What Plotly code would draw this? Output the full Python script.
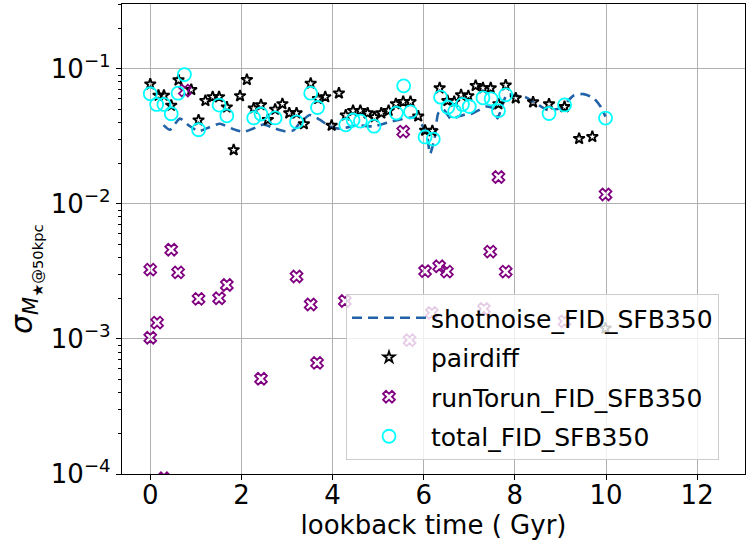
import plotly.graph_objects as go

# ---- data ----
shot_t = [0.29, 0.43, 0.65, 0.85, 1.06, 1.30, 1.53, 1.80, 2.04, 2.25, 2.48, 2.75, 2.95, 3.14, 3.28, 3.50,
          3.72, 3.94, 4.16, 4.53, 4.89, 5.30, 5.81, 5.96, 6.07, 6.14, 6.24, 6.32, 6.43, 6.60, 6.76, 6.94,
          7.05, 7.38, 7.52, 7.62, 7.72, 7.83, 8.04, 8.20, 8.49, 8.71, 9.00, 9.29, 9.51, 9.73, 9.88, 9.99]
shot_v = [0.0383, 0.0354, 0.0428, 0.0380, 0.0346, 0.0370, 0.0392, 0.0360, 0.0341, 0.0360, 0.0387, 0.0360,
          0.0345, 0.0350, 0.0396, 0.0455, 0.0420, 0.0375, 0.0360, 0.0381, 0.0375, 0.0408, 0.0436, 0.0386,
          0.0325, 0.0235, 0.0307, 0.0470, 0.0500, 0.0425, 0.0443, 0.0463, 0.0465, 0.0526, 0.0510, 0.0430,
          0.0530, 0.0650, 0.0630, 0.0624, 0.0548, 0.0497, 0.0512, 0.0635, 0.0650, 0.0607, 0.0526, 0.0443]

pair_t = [0.0, 0.18, 0.30, 0.46, 0.62, 0.90, 1.06, 1.21, 1.37, 1.51, 1.68, 1.83, 1.97, 2.12, 2.27, 2.43,
          2.58, 2.74, 2.90, 3.05, 3.21, 3.37, 3.52, 3.68, 3.84, 3.98, 4.14, 4.29, 4.45, 4.61, 4.77, 4.92,
          5.07, 5.23, 5.39, 5.55, 5.71, 5.88, 6.03, 6.19, 6.35, 6.52, 6.67, 6.82, 6.98, 7.14, 7.30, 7.47,
          7.64, 7.80, 8.02, 8.40, 8.75, 9.09, 9.41, 9.70, 9.99]
pair_v = [0.077, 0.0636, 0.0636, 0.0536, 0.0825, 0.070, 0.0417, 0.058, 0.062, 0.062, 0.052, 0.0251,
          0.063, 0.083, 0.051, 0.054, 0.042, 0.050, 0.055, 0.047, 0.047, 0.039, 0.0778, 0.060, 0.062,
          0.038, 0.066, 0.0453, 0.049, 0.049, 0.047, 0.044, 0.047, 0.049, 0.055, 0.057, 0.057, 0.0445,
          0.035, 0.0347, 0.072, 0.058, 0.057, 0.064, 0.063, 0.075, 0.072, 0.072, 0.055, 0.0756, 0.0607,
          0.0567, 0.0548, 0.0523, 0.0304, 0.0314, 0.0012]

run_t = [0.0, 0.0, 0.15, 0.30, 0.46, 0.61, 0.76, 1.06, 1.51, 1.68, 2.43, 3.21, 3.52, 3.66, 4.27, 5.55,
         5.69, 6.03, 6.18, 6.34, 6.51, 7.32, 7.46, 7.64, 7.80, 9.09, 9.99]
run_v = [0.00326, 0.00102, 0.00132, 0.000093, 0.00458, 0.00311, 0.069, 0.00198, 0.0020, 0.00251,
         0.000507, 0.0029, 0.0018, 0.000665, 0.00191, 0.0343, 0.00098, 0.00318, 0.00156, 0.00345,
         0.00315, 0.00167, 0.00443, 0.0158, 0.00315, 0.00135, 0.01175]

tot_t = [0.0, 0.14, 0.30, 0.46, 0.61, 0.75, 1.06, 1.51, 1.68, 2.27, 2.43, 2.74, 3.21, 3.52, 3.67, 4.29,
         4.45, 4.61, 4.91, 5.40, 5.56, 5.71, 6.03, 6.21, 6.37, 6.53, 6.68, 6.85, 7.00, 7.30, 7.48, 7.64,
         7.80, 8.75, 9.09, 9.99]
tot_v = [0.0654, 0.0545, 0.0545, 0.0465, 0.066, 0.0907, 0.0354, 0.0539, 0.0449, 0.0433, 0.0463, 0.0433,
         0.0405, 0.066, 0.0517, 0.0385, 0.0418, 0.041, 0.0376, 0.047, 0.0748, 0.048, 0.0313, 0.0302,
         0.0617, 0.052, 0.0486, 0.0545, 0.0526, 0.061, 0.060, 0.049, 0.0642, 0.0467, 0.054, 0.0432]

x_ticks = [0, 2, 4, 6, 8, 10, 12]
y_tickvals = [1e-4, 1e-3, 1e-2, 1e-1]
y_ticktext = ["10<sup>\u22124</sup>", "10<sup>\u22123</sup>", "10<sup>\u22122</sup>", "10<sup>\u22121</sup>"]
y_minor = [m * 10.0 ** e for e in (-4, -3, -2, -1) for m in range(2, 10)]

FONT = "DejaVu Sans"
W, H = 749, 551
ML, MR, MT, MB = 122, 4, 4, 77

fig = go.Figure()
fig.add_trace(go.Scatter(x=shot_t, y=shot_v, mode="lines", name="shotnoise_FID_SFB350", legendgroup="a",
                         line=dict(color="#2163a6", width=2.6, dash="10px,6px", shape="spline", smoothing=0.6)))
fig.add_trace(go.Scatter(x=pair_t, y=pair_v, mode="markers", name="pairdiff", legendgroup="b",
                         marker=dict(symbol="star-open", size=8.5, color="black", line=dict(width=1.8, color="black"))))
fig.add_trace(go.Scatter(x=run_t, y=run_v, mode="markers", name="runTorun_FID_SFB350", legendgroup="c",
                         marker=dict(symbol="x-open", size=10.5, color="#800080", line=dict(width=1.8, color="#800080"))))
fig.add_trace(go.Scatter(x=tot_t, y=tot_v, mode="markers", name="total_FID_SFB350", legendgroup="d",
                         marker=dict(symbol="circle-open", size=13, color="#00ffff", line=dict(width=1.8, color="#00ffff"))))

axis_common = dict(showline=True, linecolor="black", linewidth=1.2, mirror=True,
                   ticks="outside", ticklen=5, tickwidth=1.2, tickcolor="black",
                   showgrid=True, gridcolor="#b0b0b0", gridwidth=1, zeroline=False,
                   tickfont=dict(family=FONT, size=26, color="black"))

fig.update_xaxes(range=[-0.62, 13.05], tickvals=x_ticks, ticklabelstandoff=-7,
                 title=dict(text="lookback time ( Gyr)", font=dict(family=FONT, size=26, color="black"), standoff=4),
                 **axis_common)
fig.update_yaxes(type="log", range=[-4, -0.52], tickvals=y_tickvals, ticktext=y_ticktext,
                 minor=dict(tickvals=y_minor, ticks="outside", ticklen=3, tickwidth=1, tickcolor="black", showgrid=False),
                 **axis_common)

plot_w = W - ML - MR
plot_h = H - MT - MB
fig.add_annotation(xref="paper", yref="paper", x=(25 - ML) / plot_w, y=(H - MB - 279) / plot_h,
                   xanchor="center", yanchor="middle", textangle=-90, showarrow=False,
                   text="<i>\u03c3</i><sub><i>M</i><sub>\u2605@50kpc</sub></sub>",
                   font=dict(family=FONT, size=30, color="black"))

fig.update_layout(
    width=W, height=H, margin=dict(l=ML, r=MR, t=MT, b=MB),
    paper_bgcolor="white", plot_bgcolor="white",
    font=dict(family=FONT, size=25, color="black"),
    showlegend=True,
    legend=dict(x=(346 - ML) / plot_w, y=(H - MB - 294) / plot_h, xanchor="left", yanchor="top",
                bgcolor="rgba(255,255,255,0.8)", bordercolor="#cccccc", borderwidth=1,
                font=dict(family=FONT, size=25, color="black"), tracegroupgap=4, itemwidth=74),
)

fig.write_html("out.html")
